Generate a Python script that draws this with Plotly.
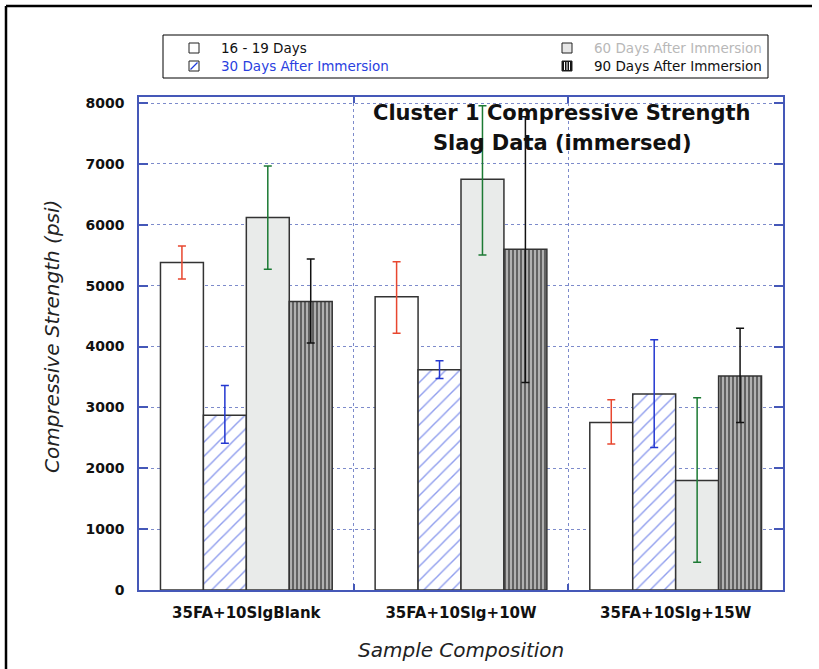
import plotly.graph_objects as go

# ---- data -------------------------------------------------------------
categories = ["35FA+10SlgBlank", "35FA+10Slg+10W", "35FA+10Slg+15W"]

series_names = ["16 - 19 Days", "30 Days After Immersion",
                "60 Days After Immersion", "90 Days After Immersion"]

days_16_19 = [5380, 4820, 2750]
days_16_19_plus = [270, 575, 375]
days_16_19_minus = [270, 600, 350]

days_30 = [2870, 3620, 3220]
days_30_plus = [490, 145, 890]
days_30_minus = [460, 145, 880]

days_60 = [6120, 6750, 1800]
days_60_plus = [845, 1205, 1360]
days_60_minus = [850, 1245, 1345]

days_90 = [4740, 5600, 3515]
days_90_plus = [700, 2175, 785]
days_90_minus = [680, 2190, 765]

y_ticks = [0, 1000, 2000, 3000, 4000, 5000, 6000, 7000, 8000]

# ---- styling ----------------------------------------------------------
W, H = 819, 669
M_L, M_R, M_T, M_B = 139, 36, 97, 79
PW, PH = W - M_L - M_R, H - M_T - M_B

FONT = "DejaVu Sans"
AXIS_BLUE = "#4558b8"
GRID_BLUE = "#7d8bcb"
OUTLINE = "#333333"
HATCH_BLUE = "#1f3bdc"


def px(x):
    return (x - M_L) / PW


def py(y):
    return (H - M_B - y) / PH


xpos = list(range(len(categories)))

fig = go.Figure()

bar_specs = [
    (days_16_19, days_16_19_plus, days_16_19_minus, "#e8472f",
     dict(color="white")),
    (days_30, days_30_plus, days_30_minus, "#2438d0",
     dict(color="white", pattern=dict(shape="/", fgcolor=HATCH_BLUE, bgcolor="white",
                                      size=10, solidity=0.14))),
    (days_60, days_60_plus, days_60_minus, "#1c7a34",
     dict(color="#e9ebea")),
    (days_90, days_90_plus, days_90_minus, "#111111",
     dict(color="#b0b0b0", pattern=dict(shape="|", fgcolor="#111111", bgcolor="#b0b0b0",
                                        size=4, solidity=0.5))),
]

for name, (vals, plus, minus, ecol, mk) in zip(series_names, bar_specs):
    mk = dict(mk)
    mk["line"] = dict(color=OUTLINE, width=1.5)
    fig.add_trace(go.Bar(
        x=xpos, y=vals, name=name, marker=mk,
        error_y=dict(type="data", symmetric=False, array=plus, arrayminus=minus,
                     color=ecol, thickness=1.5, width=4),
        showlegend=False,
    ))

fig.update_layout(
    width=W, height=H,
    margin=dict(l=M_L, r=M_R, t=M_T, b=M_B, autoexpand=False),
    paper_bgcolor="white", plot_bgcolor="white",
    barmode="group", bargap=0.2, bargroupgap=0,
    font=dict(family=FONT, color="black"),
    showlegend=False,
)

fig.update_xaxes(
    range=[-0.5, 2.5], tickvals=xpos, ticktext=[f"<b>{c}</b>" for c in categories],
    ticks="", showgrid=False, zeroline=False,
    showline=True, linecolor=AXIS_BLUE, linewidth=1.5, mirror="ticks",
    tickfont=dict(family=FONT, size=15, color="#111"),
    minor=dict(tickvals=[0.5, 1.5], ticks="inside", ticklen=6, tickwidth=1.5,
               tickcolor=AXIS_BLUE, showgrid=True, gridcolor=GRID_BLUE,
               griddash="dot", gridwidth=1),
    ticklabelstandoff=8,
)
fig.update_yaxes(
    range=[0, 8100], tickvals=y_ticks, ticktext=[f"<b>{v}</b>" for v in y_ticks],
    ticks="inside", ticklen=9, tickwidth=1.5, tickcolor=AXIS_BLUE,
    showline=True, linecolor=AXIS_BLUE, linewidth=1.5, mirror="ticks",
    showgrid=True, gridcolor=GRID_BLUE, griddash="dot", gridwidth=1,
    zeroline=False,
    tickfont=dict(family=FONT, size=14, color="#111"),
    ticklabelstandoff=10,
)

shapes = []
annotations = []

# outer frame (top and left edges)
shapes.append(dict(type="line", xref="paper", yref="paper",
                   x0=px(6), x1=px(812), y0=py(6), y1=py(6),
                   line=dict(color="black", width=2.5)))
shapes.append(dict(type="line", xref="paper", yref="paper",
                   x0=px(6), x1=px(6), y0=py(6), y1=py(669),
                   line=dict(color="black", width=2.5)))

# legend box
shapes.append(dict(type="rect", xref="paper", yref="paper",
                   x0=px(163), x1=px(768), y0=py(35), y1=py(78),
                   line=dict(color="black", width=1), fillcolor="white"))

leg_rows = [48, 66]
leg_items = [
    (189, leg_rows[0], series_names[0], "#111111", "plain"),
    (189, leg_rows[1], series_names[1], "#2a3fe0", "hatch"),
    (562, leg_rows[0], series_names[2], "#b8b8b8", "grey"),
    (562, leg_rows[1], series_names[3], "#111111", "stripes"),
]
S = 10
for sx, sy, label, tcol, kind in leg_items:
    x0, x1, y0, y1 = sx, sx + S, sy - S / 2, sy + S / 2
    fill = {"plain": "white", "hatch": "white", "grey": "#e6e6e6", "stripes": "#111111"}[kind]
    shapes.append(dict(type="rect", xref="paper", yref="paper",
                       x0=px(x0), x1=px(x1), y0=py(y0), y1=py(y1),
                       line=dict(color="#222", width=1), fillcolor=fill))
    if kind == "hatch":
        shapes.append(dict(type="line", xref="paper", yref="paper",
                           x0=px(x0 + 1.5), x1=px(x1 - 1.5), y0=py(y1 - 1.5), y1=py(y0 + 1.5),
                           line=dict(color=HATCH_BLUE, width=1.2)))
    if kind == "stripes":
        for k in range(1, 4):
            xx = x0 + k * S / 4
            shapes.append(dict(type="line", xref="paper", yref="paper",
                               x0=px(xx), x1=px(xx), y0=py(y0 + 1), y1=py(y1 - 1),
                               line=dict(color="white", width=1)))
    annotations.append(dict(text=label, xref="paper", yref="paper",
                            x=px(sx + 30), y=py(sy), xanchor="left", yanchor="middle",
                            showarrow=False, font=dict(family=FONT, size=13.5, color=tcol)))

# chart title inside the plot area
annotations.append(dict(text="<b>Cluster 1 Compressive Strength</b>", xref="paper", yref="paper",
                        x=px(561), y=py(113), xanchor="center", yanchor="middle",
                        showarrow=False, font=dict(family=FONT, size=21, color="#111")))
annotations.append(dict(text="<b>Slag Data (immersed)</b>", xref="paper", yref="paper",
                        x=px(562), y=py(143), xanchor="center", yanchor="middle",
                        showarrow=False, font=dict(family=FONT, size=21, color="#111")))

# axis titles
annotations.append(dict(text="<i>Sample Composition</i>", xref="paper", yref="paper",
                        x=px(461), y=py(650), xanchor="center", yanchor="middle",
                        showarrow=False, font=dict(family=FONT, size=20, color="#222")))
annotations.append(dict(text="<i>Compressive Strength (psi)</i>", xref="paper", yref="paper",
                        x=px(52), y=py(337), xanchor="center", yanchor="middle",
                        textangle=-90, showarrow=False,
                        font=dict(family=FONT, size=20, color="#222")))

fig.update_layout(shapes=shapes, annotations=annotations)

fig.write_html("out.html")
